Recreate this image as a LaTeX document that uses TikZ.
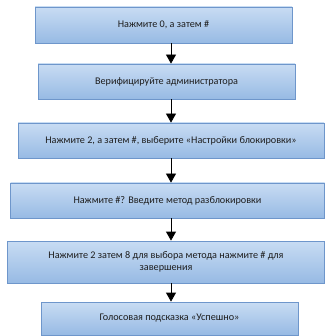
\documentclass[tikz,border=0pt]{standalone}
\usepackage{fontspec}
\setmainfont{Carlito}
\usetikzlibrary{arrows.meta}
\definecolor{boxtop}{HTML}{C8DCF3}
\definecolor{boxbot}{HTML}{97BAE4}
\definecolor{boxline}{HTML}{6E96CB}
\definecolor{txt}{HTML}{1E1E1E}
\begin{document}
\begin{tikzpicture}[x=1pt,y=-1pt,
  stepbox/.style={draw=boxline, line width=0.8pt, top color=boxtop, bottom color=boxbot,
    inner sep=0pt, align=center, text=txt, font=\fontsize{10.2}{12.5}\selectfont},
  conn/.style={line width=0.8pt, -{Triangle[width=10pt,length=9pt]}}]
\useasboundingbox (0,0) rectangle (325,336);
\path[fill=white] (0,0) rectangle (325,336);
\node[stepbox, minimum width=257pt, minimum height=36pt] (b1) at (163.5,25) {Нажмите 0, а затем \#};
\node[stepbox, minimum width=257pt, minimum height=35pt] (b2) at (166.5,81.5) {Верифицируйте администратора};
\node[stepbox, minimum width=306pt, minimum height=35pt] (b3) at (171,140.5) {Нажмите 2, а затем \#, выберите «Настройки блокировки»};
\node[stepbox, minimum width=314pt, minimum height=35pt] (b4) at (167.5,200.5) {Нажмите \#? Введите метод разблокировки};
\node[stepbox, minimum width=317pt, minimum height=42pt] (b5) at (166,262) {Нажмите 2 затем 8 для выбора метода нажмите \# для\\завершения};
\node[stepbox, minimum width=257pt, minimum height=33pt] (b6) at (169.5,318.5) {Голосовая подсказка «Успешно»};
\coordinate (ax) at (171,0);
\draw[conn] (b1.south -| ax) -- (b2.north -| ax);
\draw[conn] (b2.south -| ax) -- (b3.north -| ax);
\draw[conn] (b3.south -| ax) -- (b4.north -| ax);
\draw[conn] (b4.south -| ax) -- (b5.north -| ax);
\draw[conn] (b5.south -| ax) -- (b6.north -| ax);
\end{tikzpicture}
\end{document}
